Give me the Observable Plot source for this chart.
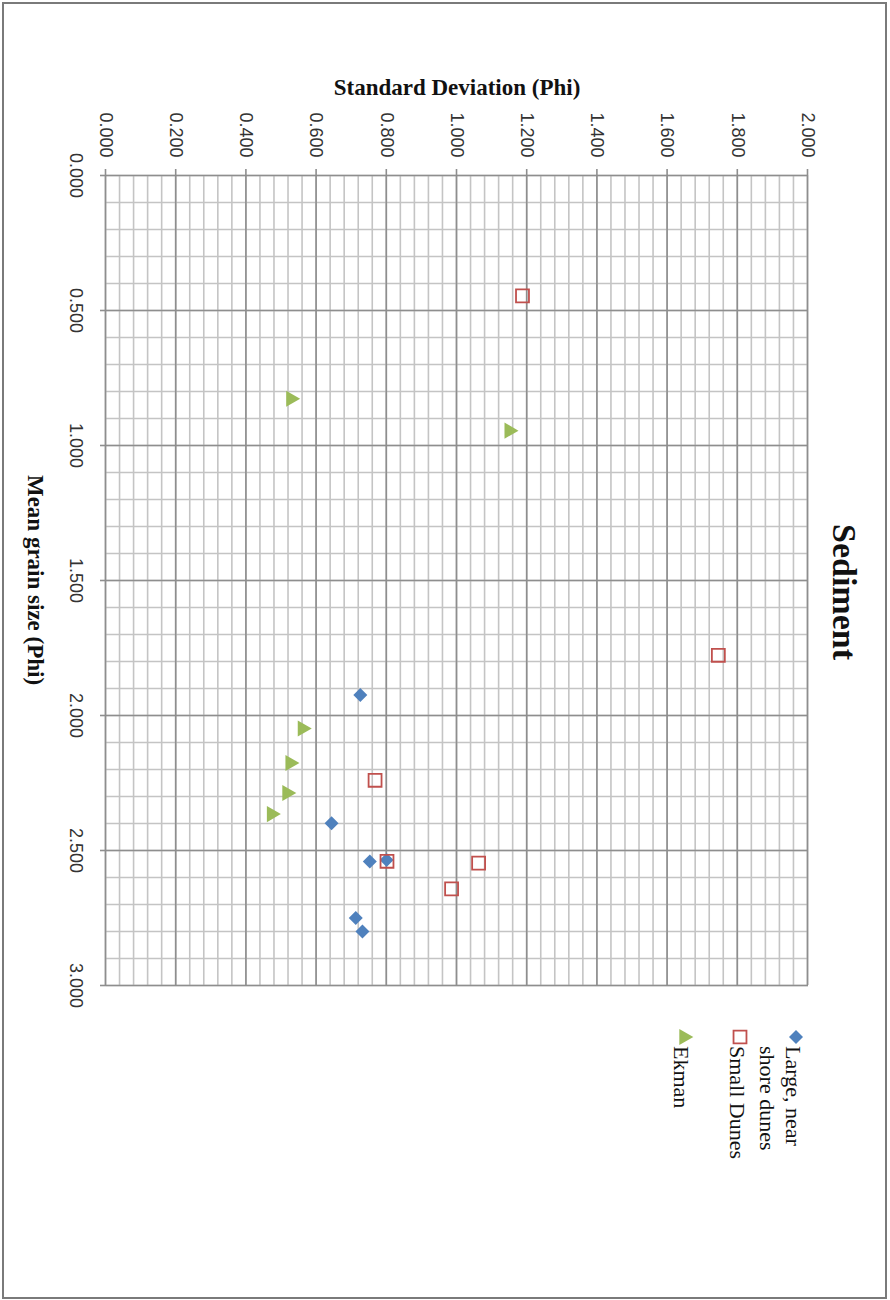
<!DOCTYPE html>
<html><head><meta charset="utf-8">
<script src="https://cdn.jsdelivr.net/npm/d3@7"></script>
<script src="https://cdn.jsdelivr.net/npm/@observablehq/plot@0.6"></script>
<style>
html,body{margin:0;padding:0;background:#fff;width:890px;height:1300px;overflow:hidden;}
#frame{position:absolute;left:2px;top:2px;width:885px;height:1297px;box-sizing:border-box;border:2px solid #7a7a7a;}
#rot{position:absolute;left:0;top:0;width:1300px;height:890px;transform-origin:0 0;transform:translate(890px,0) rotate(90deg);}
#rot > *{position:absolute;left:0;top:0;}
</style></head><body>
<div id="frame"></div>
<div id="rot"><div id="chart"></div><svg id="ann" width="1300" height="890"></svg></div>
<script>
// ---- data ----
const seriesNames = ["Large, near shore dunes", "Small Dunes", "Ekman"];
const seriesColors = ["#4F81BD", "#C0504D", "#9BBB59"];

const largeMean = [1.924, 2.399, 2.541, 2.535, 2.750, 2.800];
const largeSd   = [0.726, 0.644, 0.753, 0.801, 0.713, 0.732];

const smallMean = [0.446, 1.777, 2.240, 2.540, 2.547, 2.642];
const smallSd   = [1.188, 1.746, 0.768, 0.802, 1.063, 0.986];

const ekmanMean = [0.827, 0.945, 2.048, 2.176, 2.287, 2.365];
const ekmanSd   = [0.528, 1.150, 0.561, 0.526, 0.517, 0.473];

const meanTicks = [0, 0.5, 1, 1.5, 2, 2.5, 3];
const sdTicks = [0, 0.2, 0.4, 0.6, 0.8, 1, 1.2, 1.4, 1.6, 1.8, 2];
const meanMinor = d3.range(0, 31).map(i => i / 10);
const sdMinor = d3.range(0, 51).map(i => i * 0.04);

const titleText = "Sediment";
const xTitle = "Mean grain size (Phi)";
const yTitle = "Standard Deviation (Phi)";

const toRows = (m, s) => m.map((v, i) => ({mean: v, sd: s[i]}));
const large = toRows(largeMean, largeSd);
const small = toRows(smallMean, smallSd);
const ekman = toRows(ekmanMean, ekmanSd);

const fmt = d3.format(".3f");
const minorColor = "#c4c4c4", majorColor = "#8e8e8e";

const chart = Plot.plot({
  width: 1300, height: 890,
  marginLeft: 175, marginRight: 315, marginTop: 82, marginBottom: 106,
  x: {domain: [0, 3]},
  y: {domain: [0, 2]},
  style: {fontFamily: "'Liberation Sans', Arial, sans-serif", fontSize: "18px", color: "#333", background: "transparent", overflow: "visible"},
  marks: [
    Plot.ruleX(meanMinor, {stroke: minorColor, strokeWidth: 1.6}),
    Plot.ruleY(sdMinor, {stroke: minorColor, strokeWidth: 1.6}),
    Plot.ruleX(meanTicks, {stroke: majorColor, strokeWidth: 1.6}),
    Plot.ruleY(sdTicks, {stroke: majorColor, strokeWidth: 1.6}),
    Plot.axisX({ticks: meanTicks, tickFormat: fmt, tickSize: 6, tickPadding: 17, label: null, stroke: majorColor, strokeWidth: 1.6, fill: "#333"}),
    Plot.axisY({ticks: sdTicks, tickFormat: fmt, tickSize: 6, tickPadding: 12, label: null, stroke: majorColor, strokeWidth: 1.6, fill: "#333"}),
    Plot.dot(large, {x: "mean", y: "sd", symbol: "diamond2", fill: seriesColors[0], r: 6.3}),
    Plot.dot(small, {x: "mean", y: "sd", symbol: "square", fill: "none", stroke: seriesColors[1], strokeWidth: 1.8, r: 7.3}),
    Plot.dot(ekman, {x: "mean", y: "sd", symbol: "triangle", fill: seriesColors[2], r: 6})
  ]
});
document.getElementById("chart").appendChild(chart);

// ---- titles and legend (unrotated coordinates; the whole block is turned 90° clockwise) ----
const ann = d3.select("#ann");
const serif = "'Liberation Serif', 'Times New Roman', serif";
ann.append("text").attr("x", 592).attr("y", 57).attr("text-anchor", "middle")
  .attr("font-family", serif).attr("font-weight", "bold").attr("font-size", 34).attr("fill", "#111").text(titleText);
ann.append("text").attr("x", 580).attr("y", 862).attr("text-anchor", "middle")
  .attr("font-family", serif).attr("font-weight", "bold").attr("font-size", 23).attr("fill", "#111").text(xTitle);
ann.append("text").attr("transform", "translate(95,433) rotate(-90)").attr("text-anchor", "middle")
  .attr("font-family", serif).attr("font-weight", "bold").attr("font-size", 23).attr("fill", "#111").text(yTitle);

const legendItems = [
  {sym: d3.symbolDiamond2, r: 6.3, fill: seriesColors[0], stroke: "none", y: 94, lines: ["Large, near", "shore dunes"]},
  {sym: d3.symbolSquare, r: 7.3, fill: "none", stroke: seriesColors[1], y: 150, lines: ["Small Dunes"]},
  {sym: d3.symbolTriangle, r: 6, fill: seriesColors[2], stroke: "none", y: 206, lines: ["Ekman"]}
];
legendItems.forEach(it => {
  ann.append("path").attr("transform", `translate(1037,${it.y})`)
    .attr("d", d3.symbol(it.sym, Math.PI * it.r * it.r)())
    .attr("fill", it.fill).attr("stroke", it.stroke).attr("stroke-width", 1.8);
  const t = ann.append("text").attr("x", 1046).attr("y", it.y + 10)
    .attr("font-family", serif).attr("font-size", 22).attr("fill", "#111");
  it.lines.forEach((l, i) => t.append("tspan").attr("x", 1046).attr("dy", i === 0 ? 0 : 26).text(l));
});
</script>
</body></html>
